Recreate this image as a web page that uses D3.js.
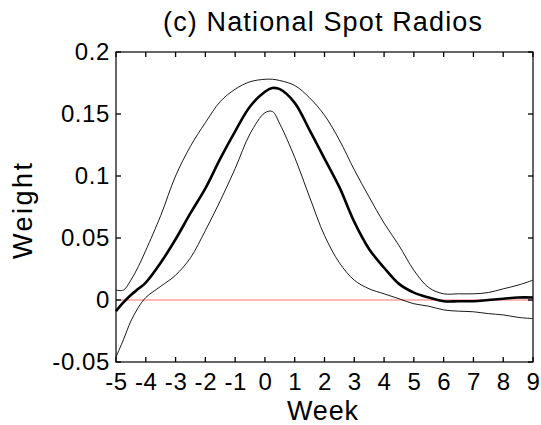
<!DOCTYPE html>
<html>
<head>
<meta charset="utf-8">
<script src="https://cdn.jsdelivr.net/npm/d3@7"></script>
<style>
  body { margin: 0; background: #fff; }
  text { font-family: Arial, "Liberation Sans", sans-serif; fill: #000; }
</style>
</head>
<body>
<svg id="chart" width="541" height="425"></svg>
<script>
const weeks = [-5, -4.75, -4.5, -4.25, -4, -3.5, -3, -2.5, -2, -1.5, -1, -0.5, 0, 0.25, 0.5, 1, 1.5, 2, 2.5, 3, 3.5, 4, 4.5, 5, 5.5, 6, 6.5, 7, 7.5, 8, 8.5, 9];
const meanWeight = [-0.009, -0.002, 0.004, 0.009, 0.014, 0.030, 0.049, 0.070, 0.090, 0.114, 0.136, 0.156, 0.168, 0.171, 0.170, 0.159, 0.137, 0.114, 0.091, 0.063, 0.041, 0.026, 0.013, 0.006, 0.002, -0.001, -0.001, -0.001, 0.0, 0.001, 0.002, 0.002];
const upperBand = [0.008, 0.008, 0.016, 0.027, 0.040, 0.068, 0.100, 0.124, 0.143, 0.160, 0.170, 0.176, 0.178, 0.178, 0.177, 0.173, 0.163, 0.149, 0.129, 0.105, 0.083, 0.062, 0.044, 0.024, 0.010, 0.005, 0.005, 0.005, 0.006, 0.009, 0.012, 0.016];
const lowerBand = [-0.046, -0.032, -0.017, -0.006, 0.002, 0.011, 0.020, 0.034, 0.056, 0.080, 0.106, 0.134, 0.151, 0.152, 0.142, 0.115, 0.083, 0.052, 0.030, 0.016, 0.009, 0.005, 0.001, -0.003, -0.005, -0.008, -0.009, -0.0095, -0.011, -0.012, -0.014, -0.015];

const xTicks = d3.range(-5, 10);
const yTicks = [-0.05, 0, 0.05, 0.1, 0.15, 0.2];

const plotLeft = 116, plotRight = 533, plotTop = 52, plotBottom = 362;
const svg = d3.select('#chart');

const x = d3.scaleLinear().domain([-5, 9]).range([plotLeft, plotRight]);
const y = d3.scaleLinear().domain([-0.05, 0.2]).range([plotBottom, plotTop]);

// plain hyphen as minus sign, like the original
const fmt = d => String(+d.toFixed(2));

// zero reference
svg.append('line')
    .attr('x1', plotLeft).attr('x2', plotRight)
    .attr('y1', y(0)).attr('y2', y(0))
    .attr('stroke', '#ff7070').attr('stroke-width', 1);

const line = (vals) => d3.line()
    .x((d, i) => x(weeks[i]))
    .y(d => y(d))
    .curve(d3.curveCatmullRom)(vals);

svg.append('path').attr('d', line(upperBand))
    .attr('fill', 'none').attr('stroke', '#000').attr('stroke-width', 0.9);
svg.append('path').attr('d', line(lowerBand))
    .attr('fill', 'none').attr('stroke', '#000').attr('stroke-width', 0.9);
svg.append('path').attr('d', line(meanWeight))
    .attr('fill', 'none').attr('stroke', '#000').attr('stroke-width', 2.6);

// frame
svg.append('rect')
    .attr('x', plotLeft).attr('y', plotTop)
    .attr('width', plotRight - plotLeft).attr('height', plotBottom - plotTop)
    .attr('fill', 'none').attr('stroke', '#000').attr('stroke-width', 1.2);

// inward ticks on all four sides, drawn as small filled rects
const tickLen = 5, tickW = 1.3;
const tickG = svg.append('g').attr('fill', '#000');
xTicks.forEach(t => {
    tickG.append('rect').attr('x', x(t) - tickW / 2).attr('y', plotBottom - tickLen)
        .attr('width', tickW).attr('height', tickLen);
    tickG.append('rect').attr('x', x(t) - tickW / 2).attr('y', plotTop)
        .attr('width', tickW).attr('height', tickLen);
});
yTicks.forEach(t => {
    tickG.append('rect').attr('x', plotLeft).attr('y', y(t) - tickW / 2)
        .attr('width', tickLen).attr('height', tickW);
    tickG.append('rect').attr('x', plotRight - tickLen).attr('y', y(t) - tickW / 2)
        .attr('width', tickLen).attr('height', tickW);
});

// tick labels through d3 axes
const axisStyle = g => {
    g.select('.domain').remove();
    g.selectAll('.tick line').remove();
    g.selectAll('.tick text').attr('font-size', 24).attr('fill', '#000')
        .attr('letter-spacing', '0.6px')
        .attr('font-family', 'Arial, "Liberation Sans", sans-serif');
};

svg.append('g')
    .attr('transform', `translate(0,${plotBottom})`)
    .call(d3.axisBottom(x).tickValues(xTicks).tickSize(0).tickPadding(11).tickFormat(fmt))
    .call(axisStyle);

svg.append('g')
    .attr('transform', `translate(${plotLeft},0)`)
    .call(d3.axisLeft(y).tickValues(yTicks).tickSize(0).tickPadding(6).tickFormat(fmt))
    .call(axisStyle);

// titles
svg.append('text')
    .attr('x', 322.5).attr('y', 31)
    .attr('text-anchor', 'middle').attr('font-size', 27)
    .attr('textLength', 319).attr('lengthAdjust', 'spacing')
    .text('(c) National Spot Radios');

svg.append('text')
    .attr('x', 322.5).attr('y', 420)
    .attr('text-anchor', 'middle').attr('font-size', 27)
    .attr('textLength', 71).attr('lengthAdjust', 'spacing')
    .text('Week');

svg.append('text')
    .attr('transform', 'translate(32,211) rotate(-90)')
    .attr('text-anchor', 'middle').attr('font-size', 27)
    .attr('textLength', 96).attr('lengthAdjust', 'spacing')
    .text('Weight');
</script>
</body>
</html>
